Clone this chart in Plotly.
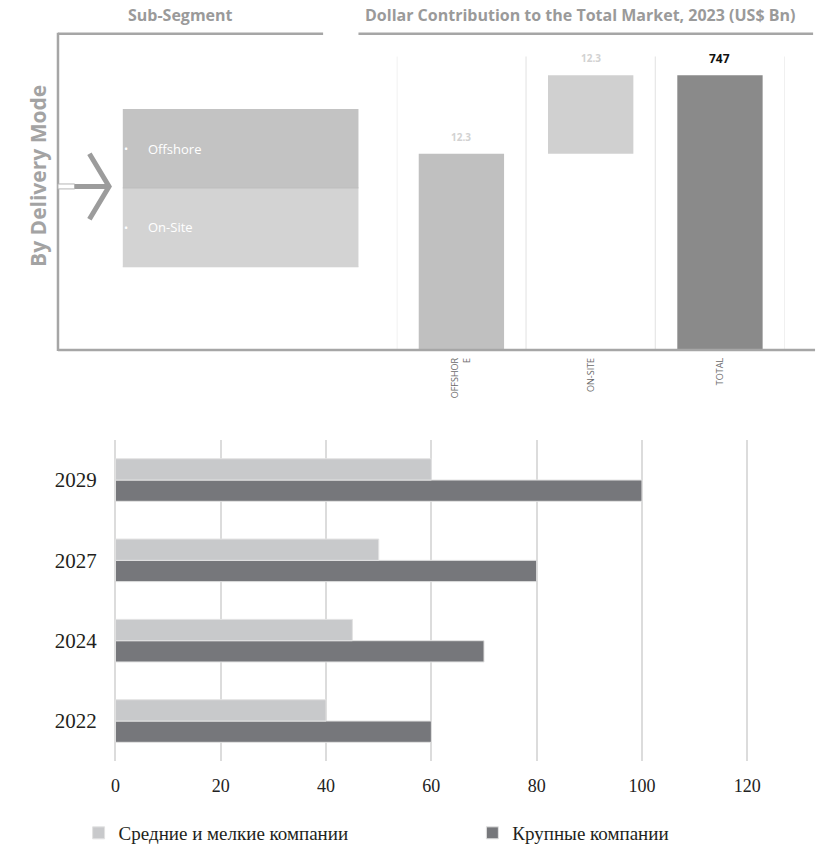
import plotly.graph_objects as go

W, H = 830, 852


def px(x):
    return x / W


def py(y):
    return 1 - y / H


# ---------------- data ----------------
# top: dollar contribution (waterfall)
wf_categories = ["OFFSHOR<br>E", "ON-SITE", "TOTAL"]
wf_values = [534, 213, 747]
wf_measure = ["relative", "relative", "total"]
wf_labels = ["12.3", "12.3", "747"]
wf_colors = ["#c0c0c0", "#d0d0d0", "#8a8a8a"]
sub_segments = ["Offshore", "On-Site"]
sub_colors = ["#c3c3c3", "#d3d3d3"]

# bottom: horizontal grouped bars
years = ["2022", "2024", "2027", "2029"]
small_mid = [40, 45, 50, 60]
large = [60, 70, 80, 100]
series_names = ["Средние и мелкие компании", "Крупные компании"]
series_colors = ["#c8c9cb", "#76777b"]
x_ticks = [0, 20, 40, 60, 80, 100, 120]

# ---------------- figure ----------------
fig = go.Figure()

# waterfall bases
bases = []
running = 0
for v, m in zip(wf_values, wf_measure):
    if m == "total":
        bases.append(0)
    else:
        bases.append(running)
        running += v

fig.add_trace(go.Bar(
    x=wf_categories, y=wf_values, base=bases,
    marker=dict(color=wf_colors, line=dict(width=0)),
    width=0.66, showlegend=False, hoverinfo="skip",
    xaxis="x", yaxis="y",
))

# bottom bars (dark first so light sits above within each group)
fig.add_trace(go.Bar(
    y=years, x=large, orientation="h", name=series_names[1],
    marker=dict(color=series_colors[1], line=dict(color="#e2e2e2", width=1)),
    legend="legend2", xaxis="x2", yaxis="y2", hoverinfo="skip",
))
fig.add_trace(go.Bar(
    y=years, x=small_mid, orientation="h", name=series_names[0],
    marker=dict(color=series_colors[0], line=dict(color="#e2e2e2", width=1)),
    legend="legend", xaxis="x2", yaxis="y2", hoverinfo="skip",
))

shapes = []
annotations = []
GRAY = "#a6a6a6"

# frame lines of top part
shapes.append(dict(type="line", xref="paper", yref="paper",
                   x0=px(56), x1=px(326), y0=py(34), y1=py(34),
                   line=dict(color=GRAY, width=2.5)))
shapes.append(dict(type="line", xref="paper", yref="paper",
                   x0=px(362), x1=px(825), y0=py(34), y1=py(34),
                   line=dict(color=GRAY, width=2.5)))
shapes.append(dict(type="line", xref="paper", yref="paper",
                   x0=px(56), x1=px(56), y0=py(33), y1=py(354),
                   line=dict(color=GRAY, width=2.5)))
# waterfall category boundaries
for b in [-0.5, 0.5, 1.5, 2.5]:
    shapes.append(dict(type="line", xref="x", yref="paper",
                       x0=b, x1=b, y0=py(353), y1=py(57),
                       line=dict(color="#e6e6e6", width=1.2), layer="below"))
shapes.append(dict(type="line", xref="paper", yref="paper",
                   x0=px(56), x1=px(827), y0=py(353), y1=py(353),
                   line=dict(color=GRAY, width=2.5)))

# sub-segment boxes
box_top = 110
box_h = 79.5
for i, (name, col) in enumerate(zip(sub_segments, sub_colors)):
    y0 = box_top + i * box_h
    y1 = y0 + box_h
    shapes.append(dict(type="rect", xref="paper", yref="paper",
                       x0=px(122), x1=px(362), y0=py(y1), y1=py(y0),
                       fillcolor=col, line=dict(width=0)))
    cy = (y0 + y1) / 2
    annotations.append(dict(xref="paper", yref="paper", x=px(125), y=py(cy),
                            text="•", showarrow=False, xanchor="center", yanchor="middle",
                            font=dict(family="Open Sans", size=11, color="white")))
    annotations.append(dict(xref="paper", yref="paper", x=px(146), y=py(cy),
                            text=name, showarrow=False, xanchor="left", yanchor="middle",
                            font=dict(family="Open Sans", size=13, color="white")))
shapes.append(dict(type="line", xref="paper", yref="paper",
                   x0=px(122), x1=px(362), y0=py(box_top + box_h), y1=py(box_top + box_h),
                   line=dict(color="#bdbdbd", width=1)))
shapes.append(dict(type="line", xref="paper", yref="paper",
                   x0=px(122), x1=px(362), y0=py(box_top + 2 * box_h), y1=py(box_top + 2 * box_h),
                   line=dict(color="#cfcfcf", width=1)))

# arrow
shapes.append(dict(type="rect", xref="paper", yref="paper",
                   x0=px(56), x1=px(73), y0=py(190.5), y1=py(185.5),
                   fillcolor="white", line=dict(color="#b5b5b5", width=1)))
shapes.append(dict(type="line", xref="paper", yref="paper",
                   x0=px(73), x1=px(106), y0=py(188), y1=py(188),
                   line=dict(color="#9c9c9c", width=5)))
shapes.append(dict(type="path", xref="paper", yref="paper",
                   path=f"M {px(88)} {py(155)} L {px(108)} {py(188)} L {px(88)} {py(221)}",
                   line=dict(color="#9c9c9c", width=5)))

# titles
annotations.append(dict(xref="paper", yref="paper", x=px(181), y=py(15),
                        text="<b>Sub-Segment</b>", showarrow=False,
                        xanchor="center", yanchor="middle",
                        font=dict(family="Open Sans", size=16, color="#9a9a9a")))
annotations.append(dict(xref="paper", yref="paper", x=px(588), y=py(15),
                        text="<b>Dollar Contribution to the Total Market, 2023 (US$ Bn)</b>",
                        showarrow=False, xanchor="center", yanchor="middle",
                        font=dict(family="Open Sans", size=16, color="#9a9a9a")))
annotations.append(dict(xref="paper", yref="paper", x=px(35), y=py(177),
                        text="<b>By Delivery Mode</b>", showarrow=False, textangle=-90,
                        xanchor="center", yanchor="middle",
                        font=dict(family="Open Sans", size=21, color="#a3a3a3")))

# waterfall value labels
for cat, v, b, lab in zip(wf_categories, wf_values, bases, wf_labels):
    is_total = lab == "747"
    annotations.append(dict(xref="x", yref="y", x=cat, y=b + v, yshift=17,
                            text=f"<b>{lab}</b>", showarrow=False,
                            xanchor="center", yanchor="middle",
                            font=dict(family="Open Sans", size=12 if is_total else 10,
                                      color="#111111" if is_total else "#d2d2d2")))

legend_common = dict(orientation="h", y=py(840), xanchor="left", yanchor="middle",
                     font=dict(family="Liberation Serif", size=19, color="#231f20"),
                     bgcolor="rgba(0,0,0,0)")

fig.update_layout(
    width=W, height=H,
    margin=dict(l=0, r=0, t=0, b=0),
    paper_bgcolor="white", plot_bgcolor="rgba(0,0,0,0)",
    barmode="group", bargap=0.47, bargroupgap=0,
    shapes=shapes, annotations=annotations,
    xaxis=dict(domain=[px(401), px(796)], type="category", range=[-0.5, 2.5],
               showgrid=False, zeroline=False, showline=False, ticks="",
               tickangle=-90, tickfont=dict(family="Open Sans", size=9, color="#6a6a6a"),
               ticklabelstandoff=5, anchor="y", fixedrange=True),
    yaxis=dict(domain=[py(353), py(57)], range=[0, 798], visible=False,
               anchor="x", fixedrange=True),
    xaxis2=dict(domain=[px(112.9), px(759.6)], range=[-0.3, 120.3],
                tickvals=x_ticks, showgrid=True, gridcolor="#dcdcdc", gridwidth=1.5,
                zeroline=False, showline=False, ticks="",
                tickfont=dict(family="Liberation Sans Narrow", size=18, color="#222222"),
                ticklabelstandoff=12, anchor="y2"),
    yaxis2=dict(domain=[py(767.5), py(443.5)], type="category",
                categoryorder="array", categoryarray=years,
                showgrid=False, zeroline=False, showline=False, ticks="",
                tickfont=dict(family="Liberation Serif", size=21, color="#231f20"),
                ticklabelstandoff=16, anchor="x2"),
    legend=dict(x=px(77), **legend_common),
    legend2=dict(x=px(478), **legend_common),
)

fig.write_html("out.html")
